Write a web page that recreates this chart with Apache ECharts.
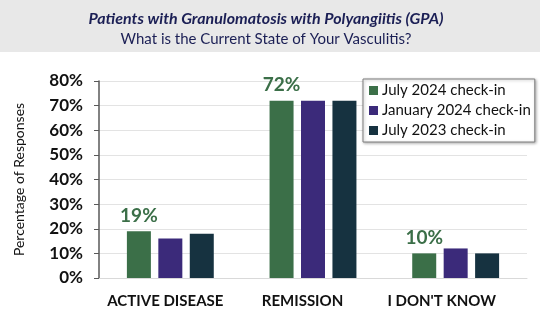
<!DOCTYPE html>
<html><head><meta charset="utf-8">
<script src="https://cdn.jsdelivr.net/npm/echarts@6/dist/echarts.min.js"></script>
<style>html,body{margin:0;padding:0;background:#fff}#c{width:540px;height:331px}</style>
</head><body><div id="c"></div>
<script>
var categories = ['ACTIVE DISEASE', 'REMISSION', "I DON'T KNOW"];
var seriesNames = ['July 2024 check-in', 'January 2024 check-in', 'July 2023 check-in'];
var july2024 = [19, 72, 10];
var jan2024 = [16, 72, 12];
var july2023 = [18, 72, 10];
var yTicks = [0, 10, 20, 30, 40, 50, 60, 70, 80];
var colors = ['#3b6f48', '#3b2a7a', '#163240'];
var FONT = 'Lato';

var chart = echarts.init(document.getElementById('c'));
function mk(name, data, color, showLabel) {
  return {
    name: name, type: 'bar', data: data, barWidth: 24, barGap: '31%',
    itemStyle: { color: color },
    label: showLabel ? { show: true, position: 'top', distance: 6, formatter: '{c}%', color: '#3b6f48',
      fontFamily: FONT, fontWeight: 'bold', fontSize: 19 } : { show: false }
  };
}
var xl = { fontFamily: FONT, fontWeight: 'bold', fontSize: 15, color: '#111' };
chart.setOption({
  animation: false,
  graphic: [{ type: 'rect', shape: { x: 0, y: 0, width: 540, height: 52 }, style: { fill: '#e8e8e8' }, z: -1 }],
  title: [{
    text: 'Patients with Granulomatosis with Polyangiitis (GPA)',
    left: 261, top: 6, textAlign: 'center',
    textStyle: { fontFamily: FONT, fontStyle: 'italic', fontWeight: 'bold', fontSize: 16, color: '#1b1f55' }
  }, {
    text: 'What is the Current State of Your Vasculitis?',
    left: 261, top: 27, textAlign: 'center',
    textStyle: { fontFamily: FONT, fontWeight: 'normal', fontSize: 15, color: '#1b1f55' }
  }],
  legend: {
    orient: 'vertical', left: 363, top: 79, data: seriesNames,
    itemWidth: 9, itemHeight: 9, itemGap: 5, padding: [4, 4, 4, 6],
    icon: 'rect',
    backgroundColor: '#fff', borderColor: '#7f7f7f', borderWidth: 1,
    shadowBlur: 3, shadowColor: 'rgba(0,0,0,0.3)', shadowOffsetX: 1, shadowOffsetY: 1,
    textStyle: { fontFamily: FONT, fontSize: 15, color: '#111', padding: [0, 0, 0, -1] }
  },
  grid: { left: 99, right: 13, top: 81, bottom: 53, containLabel: false },
  xAxis: {
    type: 'category', data: categories,
    axisLine: { lineStyle: { color: '#d9d9d9' } }, axisTick: { show: false },
    axisLabel: { interval: 0, margin: 16,
      formatter: function (v, i) { return '{a' + i + '|' + v + '}'; },
      rich: {
        a0: Object.assign({ padding: [0, 10, 0, 0] }, xl),
        a1: Object.assign({ padding: [0, 21, 0, 0] }, xl),
        a2: Object.assign({ padding: [0, 28, 0, 0] }, xl)
      } }
  },
  yAxis: {
    type: 'value', min: 0, max: 80, interval: 10,
    name: 'Percentage of Responses', nameLocation: 'middle', nameGap: 73, nameRotate: 90,
    nameTextStyle: { fontFamily: FONT, fontSize: 14, color: '#111' },
    axisLine: { show: true, lineStyle: { color: '#595959', width: 1.5 } },
    axisTick: { show: true, length: 5, lineStyle: { color: '#595959' } },
    splitLine: { lineStyle: { color: '#e3e3e3' } },
    axisLabel: { fontFamily: FONT, fontWeight: 'bold', fontSize: 17, color: '#111', margin: 16,
      formatter: function (v) { return yTicks.indexOf(v) >= 0 ? v + '%' : ''; } }
  },
  series: [mk(seriesNames[0], july2024, colors[0], true), mk(seriesNames[1], jan2024, colors[1], false), mk(seriesNames[2], july2023, colors[2], false)]
});
</script></body></html>
